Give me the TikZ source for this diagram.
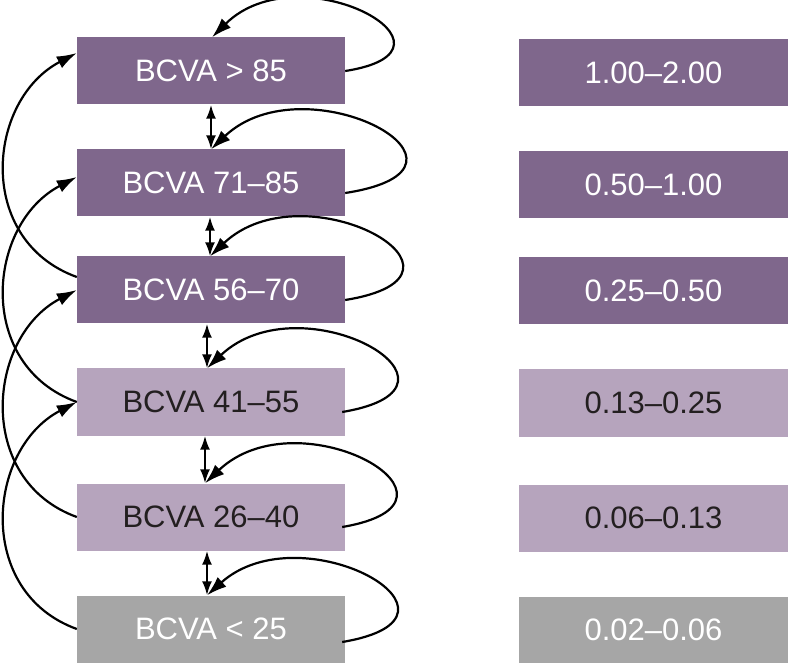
\documentclass[tikz,border=0pt]{standalone}
\usepackage{fontspec}
\setmainfont{Liberation Sans}
\usetikzlibrary{arrows.meta}
\definecolor{darkp}{RGB}{127,103,140}
\definecolor{lightp}{RGB}{182,164,189}
\definecolor{greyb}{RGB}{166,166,166}
\definecolor{txtdark}{RGB}{35,31,32}
\begin{document}
\begin{tikzpicture}[x=1pt,y=-1pt,
  box/.style={minimum width=268pt, minimum height=67pt, inner sep=0pt, font=\fontsize{31}{36}\selectfont},
  dk/.style={box, fill=darkp, text=white},
  lt/.style={box, fill=lightp, text=txtdark},
  gy/.style={box, fill=greyb, text=white},
  conn/.style={line width=2.2pt, black},
  tip/.style={-{Latex[length=20pt,width=13pt]}},
  dbl/.style={{Latex[length=14pt,width=10pt]}-{Latex[length=14pt,width=10pt]}}
]
\useasboundingbox (0,0) rectangle (788,663);
% left column
\node[dk] (b1) at (211,71) {BCVA > 85};
\node[dk] (b2) at (211,183) {BCVA 71–85};
\node[dk] (b3) at (211,290) {BCVA 56–70};
\node[lt] (b4) at (211,402) {BCVA 41–55};
\node[lt] (b5) at (211,517) {BCVA 26–40};
\node[gy] (b6) at (211,629) {BCVA < 25};
% right column
\node[dk,minimum width=269pt] (r1) at (653.5,73) {1.00–2.00};
\node[dk,minimum width=269pt] (r2) at (653.5,185) {0.50–1.00};
\node[dk,minimum width=269pt] (r3) at (653.5,291) {0.25–0.50};
\node[lt,minimum width=269pt] (r4) at (653.5,403) {0.13–0.25};
\node[lt,minimum width=269pt] (r5) at (653.5,518) {0.06–0.13};
\node[gy,minimum width=269pt] (r6) at (653.5,630) {0.02–0.06};
% vertical double arrows
\draw[conn,dbl] (b1.south) -- (b2.north);
\draw[conn,dbl] ([xshift=-1pt]b2.south) -- ([xshift=-1pt]b3.north);
\draw[conn,dbl] ([xshift=-4pt]b3.south) -- ([xshift=-4pt]b4.north);
\draw[conn,dbl] ([xshift=-6pt]b4.south) -- ([xshift=-6pt]b5.north);
\draw[conn,dbl] ([xshift=-4pt]b5.south) -- ([xshift=-4pt]b6.north);
% self loops
\draw[conn,tip] (b1.east) .. controls +(135,-21) and +(88,-87) .. ([xshift=1pt]b1.north);
\draw[conn,tip] ([yshift=-10pt]b2.east) .. controls +(162,-25) and +(95,-90) .. (b2.north);
\draw[conn,tip] ([yshift=-10pt]b3.east) .. controls +(155,-25) and +(95,-90) .. ([xshift=-1pt]b3.north);
\draw[conn,tip] ([yshift=-10pt,xshift=-3pt]b4.east) .. controls +(150,-25) and +(95,-90) .. ([xshift=-4pt]b4.north);
\draw[conn,tip] ([yshift=-10pt,xshift=-3pt]b5.east) .. controls +(148,-25) and +(95,-90) .. ([xshift=-6pt]b5.north);
\draw[conn,tip] ([yshift=-13pt,xshift=-3pt]b6.east) .. controls +(150,-25) and +(95,-85) .. ([xshift=-4pt]b6.north);
% skip-two-level arrows on the left
\draw[conn,tip] ([yshift=13pt]b3.west) .. controls +(-102,-37) and +(-90,47) .. ([yshift=18pt]b1.west);
\draw[conn,tip] (b4.west) .. controls +(-102,-37) and +(-90,47) .. ([yshift=6pt]b2.west);
\draw[conn,tip] (b5.west) .. controls +(-102,-37) and +(-90,47) .. (b3.west);
\draw[conn,tip] (b6.west) .. controls +(-102,-37) and +(-90,47) .. (b4.west);
\end{tikzpicture}
\end{document}
